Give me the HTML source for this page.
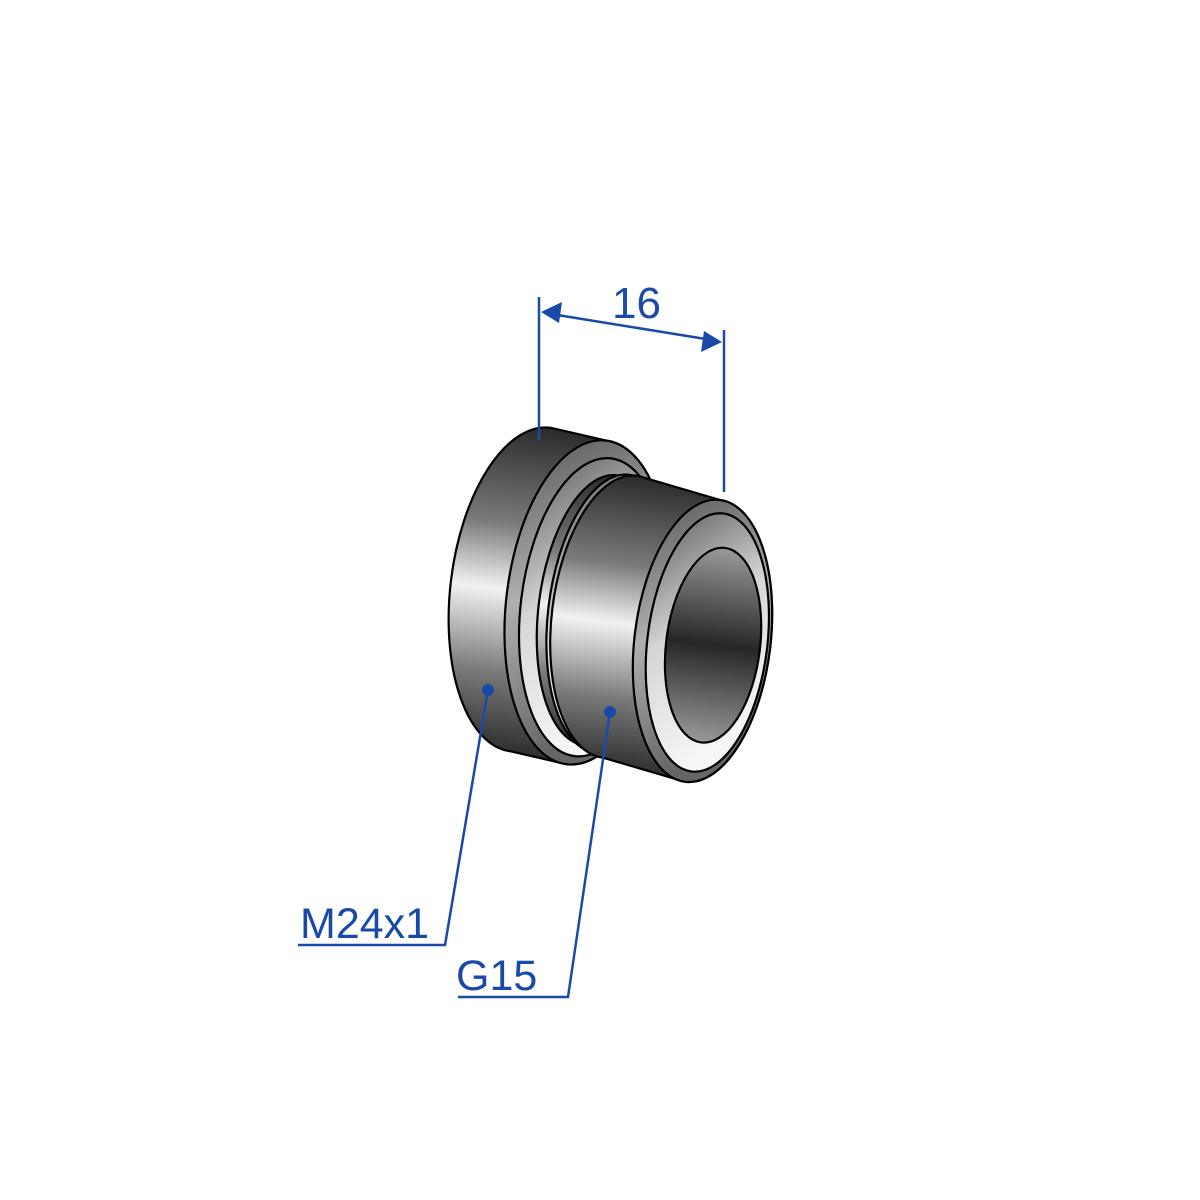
<!DOCTYPE html>
<html><head><meta charset="utf-8"><style>
html,body{margin:0;padding:0;background:#fff;}
svg{display:block}
text{font-family:"Liberation Sans","DejaVu Sans",sans-serif;fill:#1a4aa8}
</style></head><body>
<svg width="1200" height="1200" viewBox="0 0 1200 1200" xmlns="http://www.w3.org/2000/svg">
<defs>
<linearGradient id="body" x1="0" y1="0" x2="0" y2="1">
<stop offset="0" stop-color="#2a2a2a"/><stop offset="0.3" stop-color="#7a7a7a"/>
<stop offset="0.5" stop-color="#f2f2f2"/><stop offset="0.75" stop-color="#7a7a7a"/>
<stop offset="1" stop-color="#2a2a2a"/></linearGradient>
<linearGradient id="face" x1="0" y1="0" x2="0.4" y2="1">
<stop offset="0" stop-color="#5a5a5a"/><stop offset="0.5" stop-color="#d6d6d6"/>
<stop offset="1" stop-color="#f6f6f6"/></linearGradient>
<linearGradient id="rim" x1="0" y1="0" x2="0.3" y2="1">
<stop offset="0" stop-color="#555"/><stop offset="0.5" stop-color="#b0b0b0"/>
<stop offset="1" stop-color="#666"/></linearGradient>
<linearGradient id="hole" x1="0" y1="0" x2="0" y2="1">
<stop offset="0" stop-color="#9a9a9a"/><stop offset="0.5" stop-color="#262626"/>
<stop offset="1" stop-color="#9a9a9a"/></linearGradient>
</defs>
<g stroke="#000" stroke-width="2.2" transform="rotate(7 615 615)">
<path d="M528,437 L585,443 A80,163 0 0 1 585,769 L528,763 A80,163 0 0 1 528,437 Z" fill="url(#body)"/>
<ellipse cx="585" cy="606" rx="80" ry="163" fill="url(#rim)"/>
<ellipse cx="592" cy="610" rx="72" ry="150" fill="url(#face)"/>
<path d="M600,476 L610,478 A62,136 0 0 1 610,750 L600,748 A62,136 0 0 1 600,476 Z" fill="url(#body)"/>
<ellipse cx="612" cy="614" rx="64" ry="140" fill="url(#face)"/>
<path d="M620,474 L705,488 A68,142 0 0 1 705,772 L620,758 A68,142 0 0 1 620,474 Z" fill="url(#body)"/>
<ellipse cx="705" cy="630" rx="68" ry="142" fill="url(#rim)"/>
<ellipse cx="710" cy="631" rx="60" ry="130" fill="url(#face)"/>
<ellipse cx="716" cy="633" rx="47" ry="98" fill="url(#hole)"/>
</g>
<g stroke="#1a4aa8" stroke-width="2.5" fill="none">
<line x1="539" y1="297" x2="539" y2="440"/>
<line x1="724" y1="330" x2="724" y2="492"/>
<line x1="545" y1="313" x2="718" y2="341"/>
<polyline points="488,690 445,945 298,945"/>
<polyline points="610,712 568,997 458,997"/>
</g>
<g fill="#1a4aa8">
<polygon points="541,312 562,302 559,323"/>
<polygon points="722,342 701,352 704,331"/>
<circle cx="488" cy="690" r="6"/>
<circle cx="610" cy="712" r="6"/>
</g>
<text x="612" y="318" font-size="44">16</text>
<text x="300" y="938" font-size="43">M24x1</text>
<text x="456" y="990" font-size="43">G15</text>
</svg>
</body></html>
